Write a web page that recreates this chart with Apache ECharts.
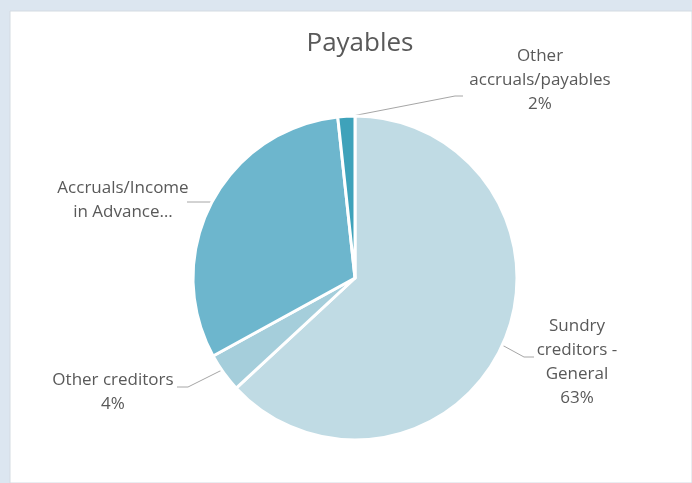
<!DOCTYPE html>
<html><head><meta charset="utf-8">
<script src="https://cdn.jsdelivr.net/npm/echarts@6/dist/echarts.min.js"></script>
<style>html,body{margin:0;padding:0;background:#dce6f0;}#c{width:692px;height:483px;}</style>
</head><body><div id="c"></div>
<script>
const categories = ["Sundry creditors - General", "Other creditors", "Accruals/Income in Advance…", "Other accruals/payables"];
const values = [63.1, 3.9, 31.3, 1.7];
const labelTexts = ["Sundry\ncreditors -\nGeneral", "Other creditors", "Accruals/Income\nin Advance…", "Other\naccruals/payables"];
const showPercent = [true, true, false, true];
const colors = ["#c0dbe4", "#a5cedb", "#6db6cd", "#3ea2ba"];

const labelPos = [
  {x: 577, y: 362, line: [[502, 345], [524, 357], [534, 357]]},
  {x: 113, y: 392, line: [[222, 370], [188, 387], [177, 387]]},
  {x: 123, y: 200, line: [[211, 202], [198, 202], [187, 202]]},
  {x: 540, y: 80, line: [[347, 117], [455, 96], [463, 96]]}
];

const chart = echarts.init(document.getElementById('c'));
chart.setOption({
  backgroundColor: '#dce6f0',
  animation: false,
  textStyle: {fontFamily: '"Open Sans", sans-serif'},
  graphic: [{type: 'rect', shape: {x: 10, y: 11, width: 682, height: 472}, style: {fill: '#ffffff', stroke: '#d4dbe2', lineWidth: 1}, z: -10}],
  title: {text: 'Payables', left: 355, top: 26, textAlign: 'center',
    textStyle: {fontSize: 26, fontWeight: 'normal', color: '#595959', fontFamily: '"Open Sans", sans-serif'}},
  series: [{
    type: 'pie',
    center: [355, 278],
    radius: 162,
    startAngle: 90,
    clockwise: true,
    data: categories.map((n, i) => ({name: n, value: values[i], itemStyle: {color: colors[i]}})),
    itemStyle: {borderColor: '#ffffff', borderWidth: 3},
    label: {
      show: true,
      color: '#595959',
      fontSize: 17,
      lineHeight: 24,
      align: 'center',
      fontFamily: '"Open Sans", sans-serif',
      formatter: p => labelTexts[p.dataIndex] + (showPercent[p.dataIndex] ? '\n' + Math.round(p.percent) + '%' : '')
    },
    labelLine: {show: true, lineStyle: {color: '#a6a6a6', width: 1}},
    labelLayout: p => {
      const l = labelPos[p.dataIndex];
      return {x: l.x, y: l.y, align: 'center', verticalAlign: 'middle', labelLinePoints: l.line};
    },
    emphasis: {disabled: true}
  }]
});
</script></body></html>
